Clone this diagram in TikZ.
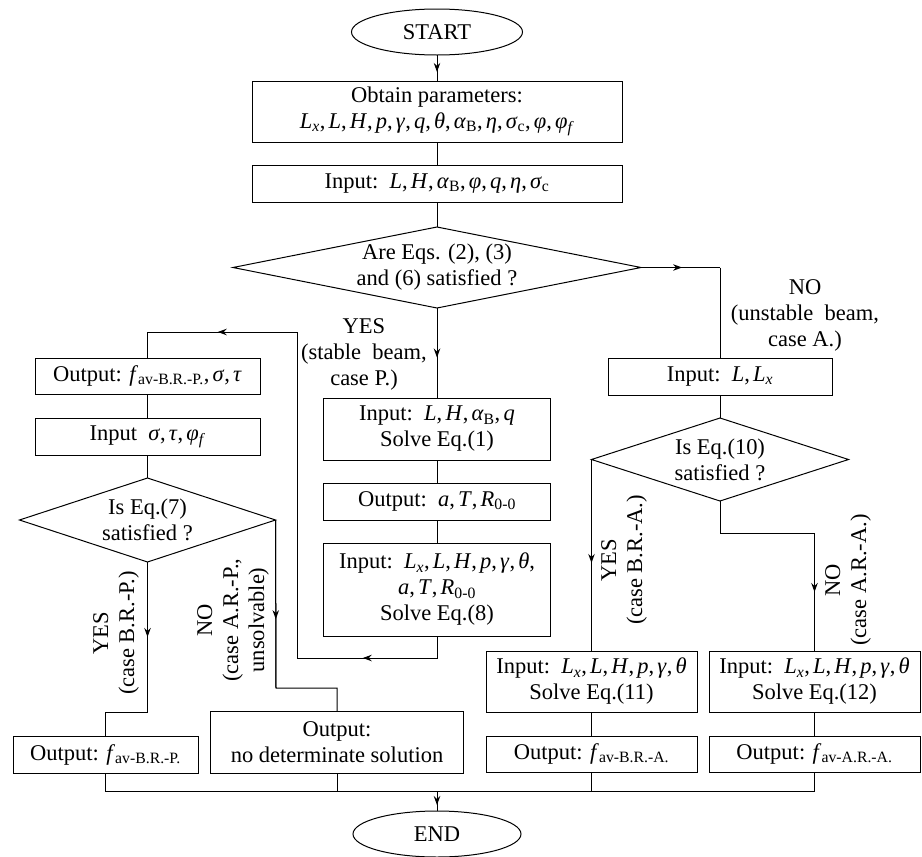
\documentclass[tikz,border=0pt]{standalone}
\usepackage{fontspec}
\setmainfont{Liberation Serif}
\usetikzlibrary{shapes.geometric,arrows.meta,decorations.markings}

\newcommand\Vi[1]{\textit{#1}}
\newcommand\Sr[1]{\textsubscript{#1}}
\newcommand\Si[1]{\textsubscript{\textit{#1}}}
\newcommand\Cm{,\hspace{0.14em}}

\begin{document}
\begin{tikzpicture}[x=1pt,y=-1pt, line width=1pt,
  every node/.style={font=\fontsize{22.5}{26}\selectfont, inner sep=0pt, outer sep=0pt},
  box/.style={draw, rectangle, align=center},
  oval/.style={draw, ellipse},
  dia/.style={draw, diamond},
  lbl/.style={align=center},
  fa/.tip={Stealth[length=9pt,width=6.5pt,inset=3pt]},
  midarrow/.style={postaction={decorate}, decoration={markings, mark=at position #1 with {\arrow{fa}}}},
  midarrow/.default=0.55]

\useasboundingbox (0,0) rectangle (922,857);

% ---------- nodes ----------
\node[oval, minimum width=171pt, minimum height=46pt] (start) at (437,32) {START};
\node[box, minimum width=370pt, minimum height=61pt] (b1) at (437,111.5)
  {Obtain parameters:\\ \Vi{L}\Si{x}\Cm\Vi{L}\Cm\Vi{H}\Cm\Vi{p}\Cm\Vi{γ}\Cm\Vi{q}\Cm\Vi{θ}\Cm\Vi{α}\Sr{B}\Cm\Vi{η}\Cm\Vi{σ}\Sr{c}\Cm\Vi{φ}\Cm\Vi{φ}\Si{f}};
\node[box, minimum width=370pt, minimum height=37pt] (b2) at (437,183.5)
  {Input:\ \ \Vi{L}\Cm\Vi{H}\Cm\Vi{α}\Sr{B}\Cm\Vi{φ}\Cm\Vi{q}\Cm\Vi{η}\Cm\Vi{σ}\Sr{c}};
\node[dia, minimum width=408pt, minimum height=81pt] (d1) at (437,267.5) {};
\node[lbl] at (d1.center) {Are Eqs. (2), (3)\\and (6) satisfied ?};

\node[box, minimum width=227pt, minimum height=62pt] (b3) at (437,429)
  {Input:\ \ \Vi{L}\Cm\Vi{H}\Cm\Vi{α}\Sr{B}\Cm\Vi{q}\\Solve Eq.(1)};
\node[box, minimum width=227pt, minimum height=37pt] (b4) at (437,501.5)
  {Output:\ \ \Vi{a}\Cm\Vi{T}\Cm\Vi{R}\Sr{0-0}};
\node[box, minimum width=227pt, minimum height=93pt] (b5) at (437,589.5)
  {Input:\ \ \Vi{L}\Si{x}\Cm\Vi{L}\Cm\Vi{H}\Cm\Vi{p}\Cm\Vi{γ}\Cm\Vi{θ},\\ \Vi{a}\Cm\Vi{T}\Cm\Vi{R}\Sr{0-0}\\ Solve Eq.(8)};

\node[box, minimum width=225pt, minimum height=36pt] (L1) at (147.5,376)
  {Output: \Vi{f}\Sr{av-B.R.-P.}\Cm\Vi{σ}\Cm\Vi{τ}};
\node[box, minimum width=225pt, minimum height=37pt] (L2) at (147.5,436.5)
  {Input\ \ \Vi{σ}\Cm\Vi{τ}\Cm\Vi{φ}\Si{f}};
\node[dia, minimum width=256pt, minimum height=84pt] (dL) at (147.5,520) {};
\node[lbl] at (dL.center) {Is Eq.(7)\\satisfied ?};
\node[box, minimum width=185pt, minimum height=37pt] (L3) at (105.5,754.5)
  {Output: \Vi{f}\Sr{av-B.R.-P.}};
\node[box, minimum width=253pt, minimum height=62pt] (L4) at (337,742)
  {Output:\\no determinate solution};

\node[box, minimum width=224pt, minimum height=37pt] (R1) at (720,376.5)
  {Input:\ \ \Vi{L}\Cm\Vi{L}\Si{x}};
\node[dia, minimum width=257pt, minimum height=83pt] (dR) at (720,459.5) {};
\node[lbl] at (dR.center) {Is Eq.(10)\\satisfied ?};
\node[box, minimum width=211pt, minimum height=61pt] (R2) at (591.5,681.5)
  {Input:\ \ \Vi{L}\Si{x}\Cm\Vi{L}\Cm\Vi{H}\Cm\Vi{p}\Cm\Vi{γ}\Cm\Vi{θ}\\Solve Eq.(11)};
\node[box, minimum width=211pt, minimum height=61pt] (R3) at (814.5,681.5)
  {Input:\ \ \Vi{L}\Si{x}\Cm\Vi{L}\Cm\Vi{H}\Cm\Vi{p}\Cm\Vi{γ}\Cm\Vi{θ}\\Solve Eq.(12)};
\node[box, minimum width=211pt, minimum height=36pt] (R4) at (591.5,754)
  {Output: \Vi{f}\Sr{av-B.R.-A.}};
\node[box, minimum width=211pt, minimum height=36pt] (R5) at (814.5,754)
  {Output: \Vi{f}\Sr{av-A.R.-A.}};

\node[oval, minimum width=168pt, minimum height=46pt] (end) at (437,834) {END};

% ---------- labels ----------
\node[lbl] (lyes) at (364,354) {YES\\(stable\ \ beam,\\case P.)};
\node[lbl] (lno) at (805,315) {NO\\(unstable\ \ beam,\\case A.)};
\node[lbl, rotate=90] (lyesL) at (116,633) {YES\\(case B.R.-P.)};
\node[lbl, rotate=90] (lnoL) at (233,620) {NO\\(case A.R.-P.,\\unsolvable)};
\node[lbl, rotate=90] (lyesR) at (624,560) {YES\\(case B.R.-A.)};
\node[lbl, rotate=90] (lnoR) at (848,580) {NO\\(case A.R.-A.)};

% ---------- coordinates ----------
\coordinate (cno) at (720,267.5);
\coordinate (cA) at (437,658);
\coordinate (cB) at (297,658);
\coordinate (cC) at (297,332);
\coordinate (cD) at (147.5,332);
\coordinate (cE) at (147.5,712);
\coordinate (cF) at (105.5,712);
\coordinate (cG) at (276,688);
\coordinate (cH) at (337,688);
\coordinate (cI) at (720,533);
\coordinate (cJ) at (814.5,533);
\coordinate (bl) at (105.5,791);
\coordinate (br) at (814.5,791);
\coordinate (bm) at (437,791);

% ---------- connectors ----------
\draw[midarrow=0.65] (start.south) -- (b1.north);
\draw (b1.south) -- (b2.north);
\draw (b2.south) -- (d1.north);
\draw[midarrow=0.52] (d1.east) -- (cno);
\draw (cno) -- (R1.north);
\draw[midarrow=0.55] (d1.south) -- (b3.north);
\draw (b3.south) -- (b4.north);
\draw (b4.south) -- (b5.north);
\draw (b5.south) -- (cA) -- (cB) -- (cC) -- (cD) -- (L1.north);
\draw[midarrow=0.53] (cA) -- (cB);
\draw[midarrow=0.53] (cC) -- (cD);
\draw (L1.south) -- (L2.north);
\draw (L2.south) -- (dL.north);
\draw (dL.south) -- (cE) -- (cF) -- (L3.north);
\draw[midarrow=0.5] (dL.south) -- (cE);
\draw (dL.east) -- (cG) -- (cH) -- (L4.north);
\draw[midarrow=0.59] (dL.east) -- (cG);
\draw (R1.south) -- (dR.north);
\draw[midarrow=0.54] (dR.west) -- (R2.north);
\draw (dR.south) -- (cI) -- (cJ) -- (R3.north);
\draw[midarrow=0.5] (cJ) -- (R3.north);
\draw (R2.south) -- (R4.north);
\draw (R3.south) -- (R5.north);
\draw (L3.south) -- (bl) -- (br) -- (R5.south);
\draw (L4.south) -- (L4.south |- bl);
\draw (R4.south) -- (R4.south |- bl);
\draw[midarrow=0.7] (bm) -- (end.north);

\end{tikzpicture}
\end{document}
